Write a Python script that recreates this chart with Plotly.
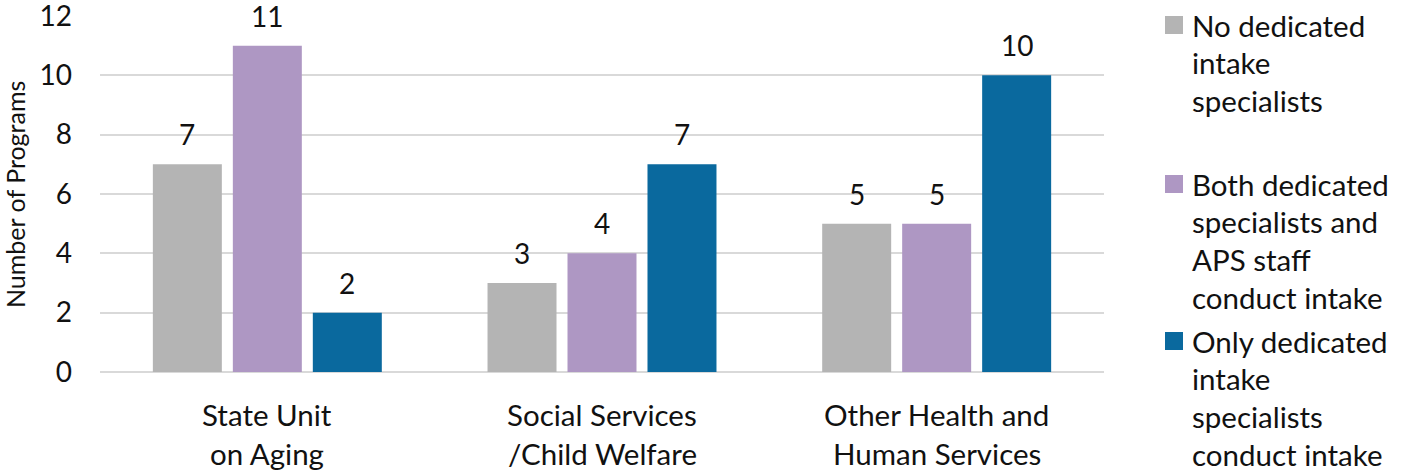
import plotly.graph_objects as go

categories = ["State Unit on Aging", "Social Services /Child Welfare", "Other Health and Human Services"]
category_lines = [["State Unit", "on Aging"], ["Social Services", "/Child Welfare"], ["Other Health and", "Human Services"]]
series_names = ["No dedicated intake specialists",
                "Both dedicated specialists and APS staff conduct intake",
                "Only dedicated intake specialists conduct intake"]
legend_lines = [["No dedicated", "intake", "specialists"],
                ["Both dedicated", "specialists and", "APS staff", "conduct intake"],
                ["Only dedicated", "intake", "specialists", "conduct intake"]]
no_dedicated = [7, 3, 5]
both = [11, 4, 5]
only_dedicated = [2, 7, 10]
series_values = [no_dedicated, both, only_dedicated]
colors = ["#B4B4B4", "#AE97C3", "#0A699E"]
y_ticks = [0, 2, 4, 6, 8, 10, 12]

W, H = 1405, 471
L, R, T, B = 100, 1104, 16, 372
FONT = "Lato"
TXT = "#111111"
TS = 29.5

def px2x(px):
    return (px - L) / (R - L)

def py2y(py):
    return (B - py) / (B - T)

fig = go.Figure()
for name, vals, col in zip(series_names, series_values, colors):
    fig.add_trace(go.Bar(x=categories, y=vals, name=name, marker=dict(color=col, line=dict(width=0)),
                         showlegend=False))

annotations = []
# data labels
for i, vals in enumerate(series_values):
    for cat, v in zip(categories, vals):
        annotations.append(dict(x=cat, y=v, xref="x", yref="y", text=str(v), showarrow=False,
                                xshift=(i - 1) * 80, yshift=30, yanchor="middle", height=24,
                                font=dict(family=FONT, size=28, color=TXT)))
# category labels
for cat, lines in zip(categories, category_lines):
    for j, line in enumerate(lines):
        annotations.append(dict(x=cat, y=py2y(414 + 39 * j), xref="x", yref="paper", text=line,
                                showarrow=False, xanchor="center", yanchor="middle",
                                font=dict(family=FONT, size=TS, color=TXT)))
# legend
legend_starts = [25, 184, 341]
shapes = []
for k, (lines, col, y0) in enumerate(zip(legend_lines, colors, legend_starts)):
    shapes.append(dict(type="rect", xref="paper", yref="paper",
                       x0=px2x(1165), x1=px2x(1183), y0=py2y(y0 - 9), y1=py2y(y0 + 9),
                       fillcolor=col, line=dict(width=0)))
    for j, line in enumerate(lines):
        annotations.append(dict(x=px2x(1190), y=py2y(y0 + 37.7 * j), xref="paper", yref="paper",
                                text=line, showarrow=False, xanchor="left", yanchor="middle",
                                font=dict(family=FONT, size=TS, color=TXT)))
# y-axis title
annotations.append(dict(x=px2x(15), y=py2y(195), xref="paper", yref="paper", text="Number of Programs",
                        textangle=-90, showarrow=False, xanchor="center", yanchor="middle",
                        font=dict(family=FONT, size=25, color=TXT)))

fig.update_layout(
    width=W, height=H,
    margin=dict(l=L, r=W - R, t=T, b=H - B, pad=0, autoexpand=False),
    paper_bgcolor="white", plot_bgcolor="white",
    barmode="group", bargap=0.283, bargroupgap=0.1375,
    showlegend=False,
    annotations=annotations, shapes=shapes,
    font=dict(family=FONT, color=TXT),
)
fig.update_xaxes(showticklabels=False, showline=False, showgrid=False, zeroline=False, automargin=False)
fig.update_yaxes(range=[0, 12], tickvals=y_ticks, showgrid=True, gridcolor="#D9D9D9", gridwidth=1.5,
                 zeroline=True, zerolinecolor="#D9D9D9", zerolinewidth=1.5, showline=False,
                 ticks="", ticklabelstandoff=27, ticklabeloverflow="allow", automargin=False,
                 tickfont=dict(family=FONT, size=28, color=TXT))

fig.write_html("out.html")
